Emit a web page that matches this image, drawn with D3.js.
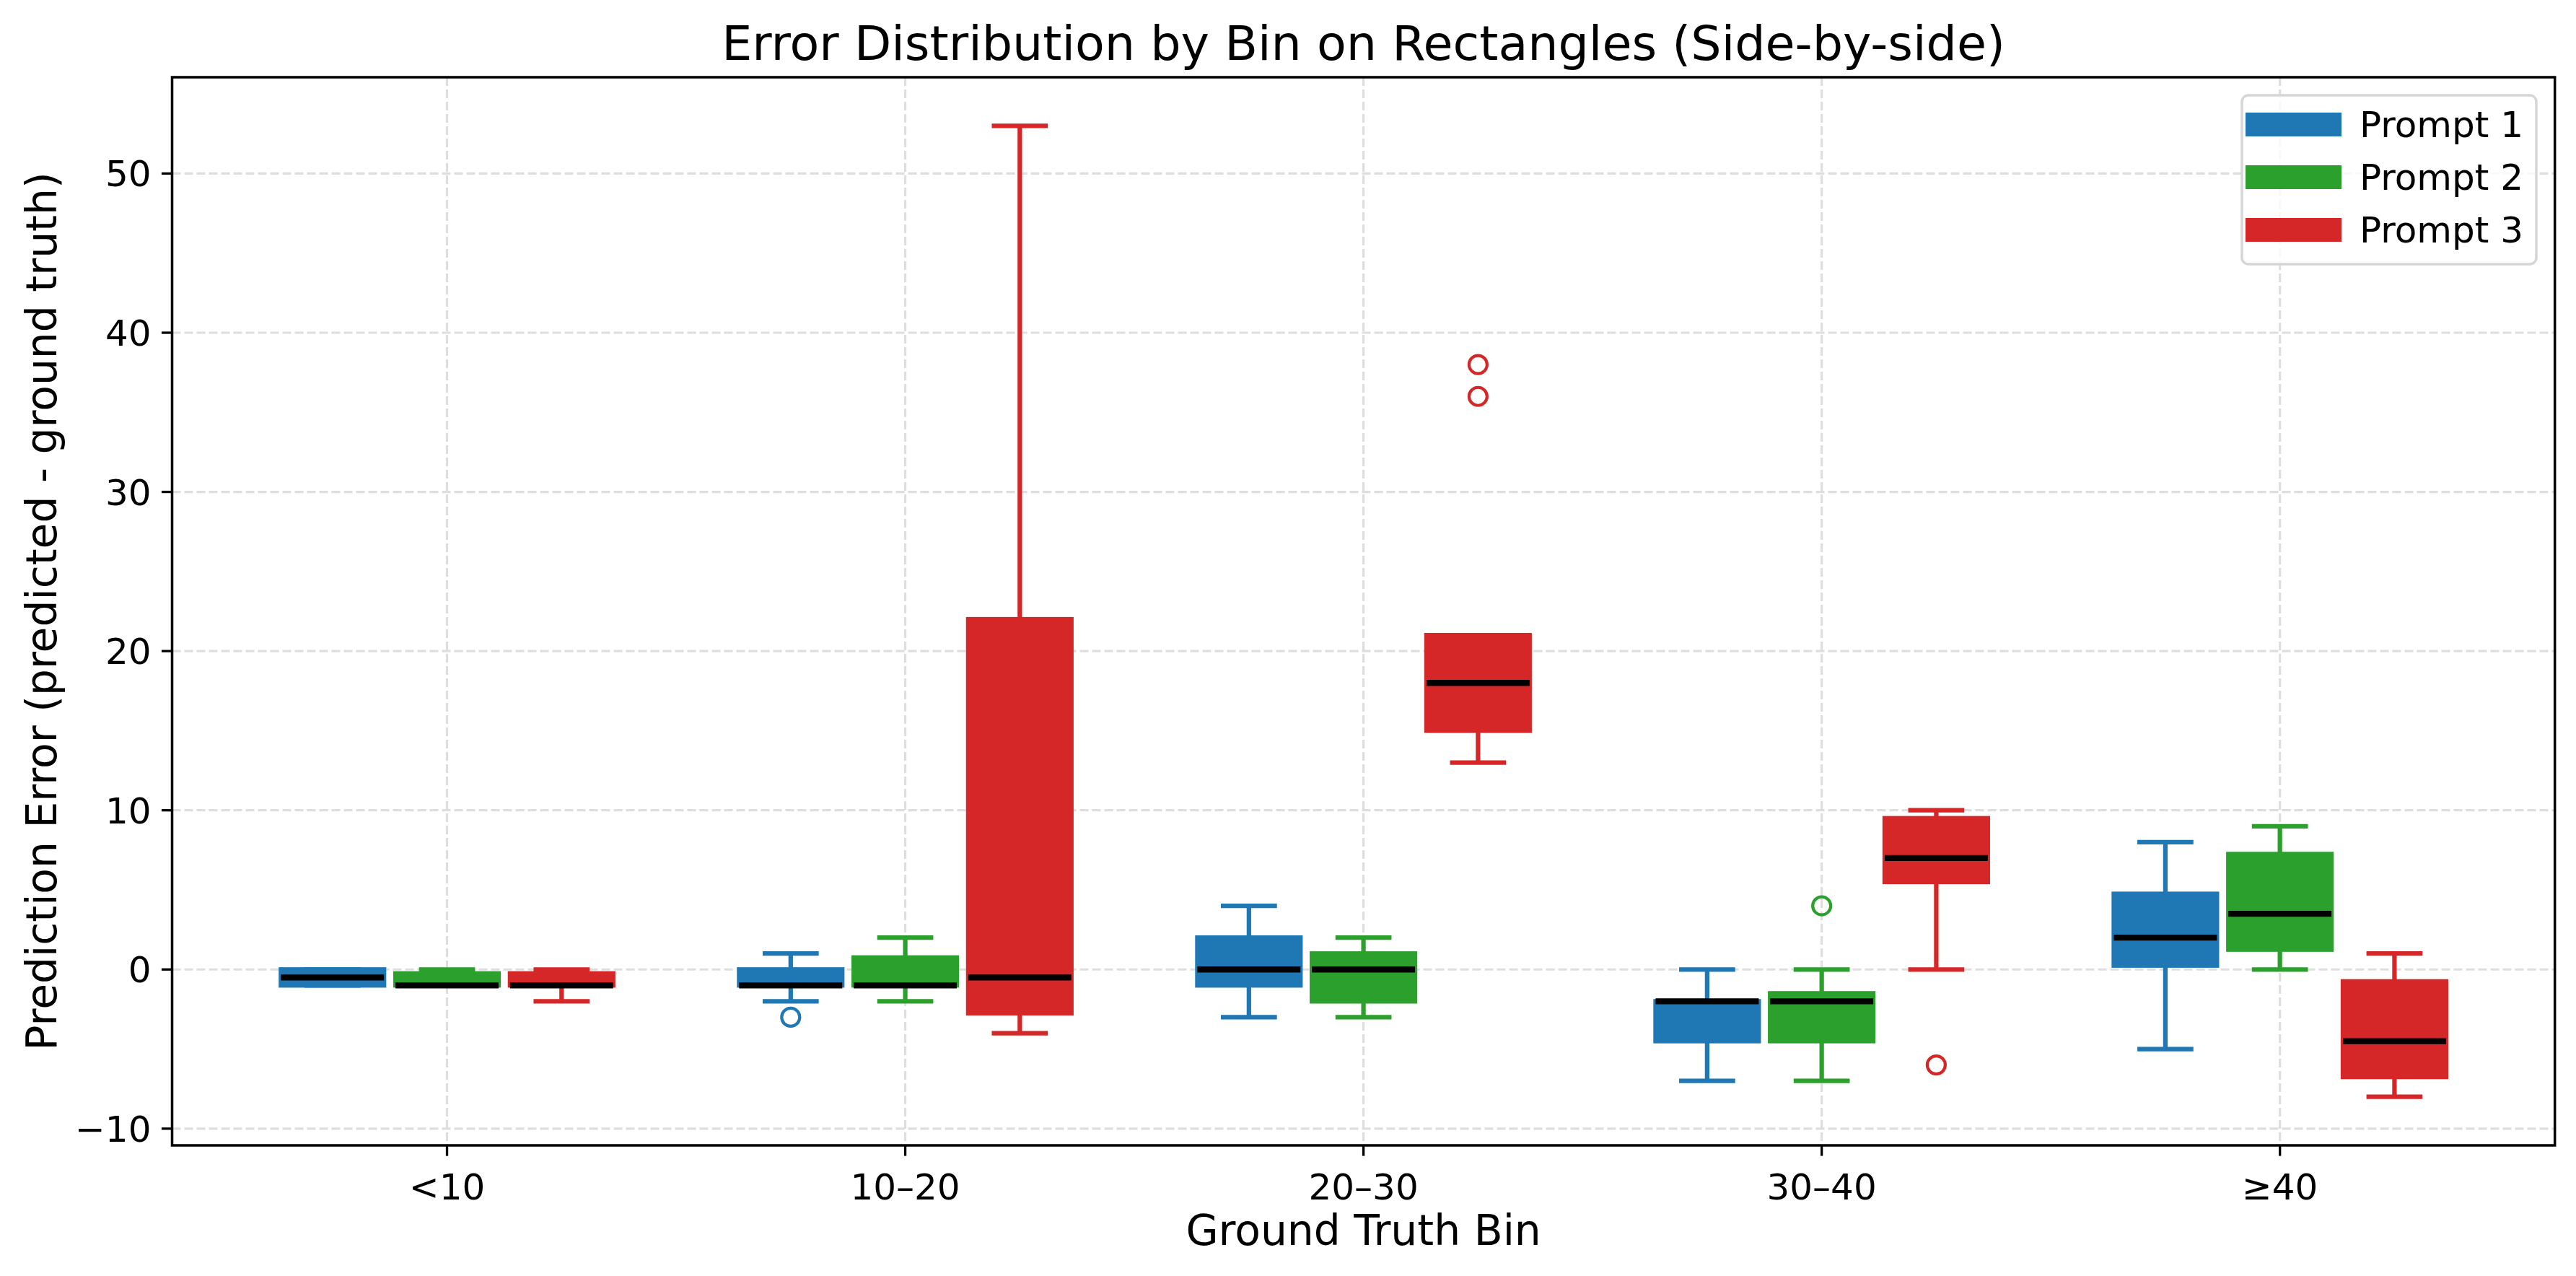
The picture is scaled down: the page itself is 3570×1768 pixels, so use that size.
<!DOCTYPE html>
<html>
<head>
<meta charset="utf-8">
<script src="https://cdn.jsdelivr.net/npm/d3@7"></script>
<style>
html,body{margin:0;padding:0;background:#fff;}
text{font-family:"DejaVu Sans",sans-serif;}
</style>
</head>
<body>
<svg id="chart" width="3570" height="1768"></svg>
<script>
// ---- data ----
const categories = ["<10", "10–20", "20–30", "30–40", "≥40"];
const seriesNames = ["Prompt 1", "Prompt 2", "Prompt 3"];
const seriesColors = ["#1f77b4", "#2ca02c", "#d62728"];
// per series, per category: [whiskerLow, q1, median, q3, whiskerHigh]
const prompt1Stats = [[-1,-1,-0.5,0,0],[-2,-1,-1,0,1],[-3,-1,0,2,4],[-7,-4.5,-2,-2,0],[-5,0.25,2,4.75,8]];
const prompt2Stats = [[-1,-1,-1,-0.25,0],[-2,-1,-1,0.75,2],[-3,-2,0,1,2],[-7,-4.5,-2,-1.5,0],[0,1.25,3.5,7.25,9]];
const prompt3Stats = [[-2,-1,-1,-0.25,0],[-4,-2.75,-0.5,22,53],[13,15,18,21,21],[0,5.5,7,9.5,10],[-8,-6.75,-4.5,-0.75,1]];
const prompt1Outliers = [[],[-3],[],[],[]];
const prompt2Outliers = [[],[],[],[4],[]];
const prompt3Outliers = [[],[],[36,38],[-6],[]];
const yTicks = [-10, 0, 10, 20, 30, 40, 50];
const titleText = "Error Distribution by Bin on Rectangles (Side-by-side)";
const xLabelText = "Ground Truth Bin";
const yLabelText = "Prediction Error (predicted - ground truth)";

const allStats = [prompt1Stats, prompt2Stats, prompt3Stats];
const allOutliers = [prompt1Outliers, prompt2Outliers, prompt3Outliers];
const offsets = [-0.25, 0, 0.25];
const boxW = 0.225;

// ---- layout ----
const L = 238.5, R = 3540.7, T = 107, B = 1587;
const svg = d3.select("#chart");
svg.append("rect").attr("width",3570).attr("height",1768).attr("fill","#fff");

const x = d3.scaleLinear().domain([-0.6, 4.6]).range([L, R]);
const y = d3.scaleLinear().domain([-11.05, 56.05]).range([B, T]);

// grid
const grid = svg.append("g");
grid.selectAll(".gy").data(yTicks).enter().append("line")
  .attr("x1", L).attr("x2", R).attr("y1", d=>y(d)).attr("y2", d=>y(d))
  .attr("stroke","#dedede").attr("stroke-width",3.2).attr("stroke-dasharray","12,5");
grid.selectAll(".gx").data(categories).enter().append("line")
  .attr("x1",(d,i)=>x(i)).attr("x2",(d,i)=>x(i)).attr("y1",T).attr("y2",B)
  .attr("stroke","#dedede").attr("stroke-width",3.2).attr("stroke-dasharray","12,5");

// boxes
const plot = svg.append("g");
allStats.forEach((stats, s) => {
  const col = seriesColors[s];
  const g = plot.append("g");
  stats.forEach((st, i) => {
    const cx = i + offsets[s];
    const [lo, q1, med, q3, hi] = st;
    const x0 = x(cx - boxW/2), x1 = x(cx + boxW/2), xc = x(cx);
    const cw0 = x(cx - boxW/4), cw1 = x(cx + boxW/4);
    g.append("rect").attr("x", x0).attr("y", y(q3)).attr("width", x1-x0)
      .attr("height", Math.max(0.01, y(q1)-y(q3)))
      .attr("fill", col).attr("stroke", col).attr("stroke-width", 6.25);
    g.append("line").attr("x1",xc).attr("x2",xc).attr("y1",y(q1)).attr("y2",y(lo))
      .attr("stroke",col).attr("stroke-width",6.25);
    g.append("line").attr("x1",xc).attr("x2",xc).attr("y1",y(q3)).attr("y2",y(hi))
      .attr("stroke",col).attr("stroke-width",6.25);
    [lo, hi].forEach(v => {
      g.append("line").attr("x1",cw0).attr("x2",cw1).attr("y1",y(v)).attr("y2",y(v))
        .attr("stroke",col).attr("stroke-width",6.25).attr("stroke-linecap","square");
    });
    g.append("line").attr("x1",x0).attr("x2",x1).attr("y1",y(med)).attr("y2",y(med))
      .attr("stroke","#000").attr("stroke-width",8.3);
    allOutliers[s][i].forEach(v => {
      g.append("circle").attr("cx",xc).attr("cy",y(v)).attr("r",12.5)
        .attr("fill","none").attr("stroke",col).attr("stroke-width",4.2);
    });
  });
});

// spines
svg.append("rect").attr("x",L).attr("y",T).attr("width",R-L).attr("height",B-T)
  .attr("fill","none").attr("stroke","#000").attr("stroke-width",3.5);

// y axis ticks
const yAxis = svg.append("g");
yTicks.forEach(v => {
  yAxis.append("line").attr("x1",L-14.6).attr("x2",L).attr("y1",y(v)).attr("y2",y(v))
    .attr("stroke","#000").attr("stroke-width",3.3);
  yAxis.append("text").attr("x",L-29).attr("y",y(v)).attr("dy","0.36em")
    .attr("text-anchor","end").attr("font-size",50).attr("fill","#000")
    .text(v < 0 ? "\u2212" + Math.abs(v) : String(v));
});
// x axis ticks
const xAxis = svg.append("g");
categories.forEach((c,i) => {
  xAxis.append("line").attr("x1",x(i)).attr("x2",x(i)).attr("y1",B).attr("y2",B+14.6)
    .attr("stroke","#000").attr("stroke-width",3.3);
  xAxis.append("text").attr("x",x(i)).attr("y",1662)
    .attr("text-anchor","middle").attr("font-size",50).attr("fill","#000").text(c);
});

// labels
svg.append("text").attr("x",(L+R)/2).attr("y",83).attr("text-anchor","middle")
  .attr("font-size",66.7).attr("fill","#000").text(titleText);
svg.append("text").attr("x",(L+R)/2).attr("y",1725).attr("text-anchor","middle")
  .attr("font-size",58.3).attr("fill","#000").text(xLabelText);
svg.append("text").attr("transform",`translate(78,${(T+B)/2}) rotate(-90)`)
  .attr("text-anchor","middle").attr("font-size",58.3).attr("fill","#000").text(yLabelText);

// legend
const lg = svg.append("g");
lg.append("rect").attr("x",3107).attr("y",132).attr("width",408).attr("height",234)
  .attr("rx",9).attr("ry",9).attr("fill","#fff").attr("fill-opacity",0.8)
  .attr("stroke","#d6d6d6").attr("stroke-width",3.5);
seriesNames.forEach((n,k) => {
  lg.append("rect").attr("x",3112).attr("y",156 + k*73).attr("width",133).attr("height",33)
    .attr("fill",seriesColors[k]);
  lg.append("text").attr("x",3270).attr("y",190 + k*73).attr("font-size",50)
    .attr("fill","#000").text(n);
});
</script>
</body>
</html>
